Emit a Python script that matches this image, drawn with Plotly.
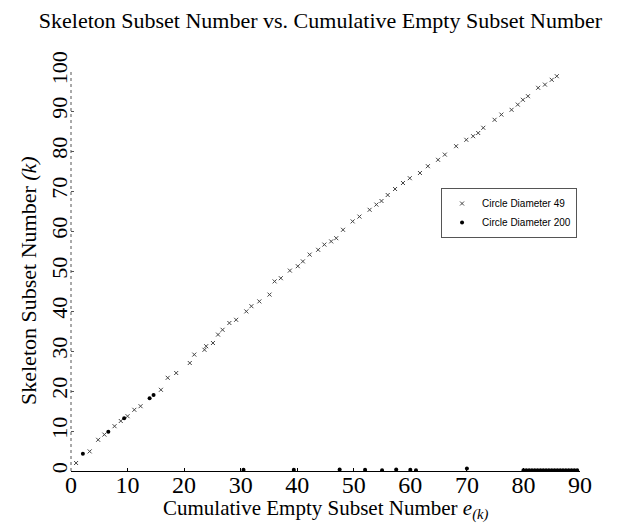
import plotly.graph_objects as go

# ---- data ----
title_text = "Skeleton Subset Number vs. Cumulative Empty Subset Number"
x_title = "Cumulative Empty Subset Number <i>e</i><sub><i>(k)</i></sub>"
y_title = "Skeleton Subset Number <i>(k)</i>"
series_names = ["Circle Diameter 49", "Circle Diameter 200"]

d49_e = [0.9, 3.3, 4.8, 5.9, 7.7, 8.8, 10.0, 11.2, 12.3, 15.9, 17.1, 18.6, 21.0, 21.8,
         23.6, 23.9, 25.1, 26.0, 26.8, 28.0, 29.2, 31.0, 31.9, 33.3, 35.1, 36.0, 37.1,
         38.7, 40.1, 41.0, 42.2, 43.7, 44.8, 46.0, 46.9, 48.1, 49.8, 51.0, 52.8, 54.0,
         54.9, 56.0, 57.3, 58.7, 59.9, 61.7, 63.1, 64.9, 66.1, 68.1, 69.9, 71.1, 72.0,
         72.9, 74.9, 76.1, 77.9, 79.0, 79.9, 80.8, 82.6, 83.8, 85.0, 85.9]
d49_k = [2.0, 4.9, 7.8, 9.1, 11.2, 12.5, 13.7, 15.3, 16.2, 20.3, 23.3, 24.5, 27.0, 29.1,
         30.3, 31.2, 32.0, 34.1, 35.3, 37.0, 37.8, 39.9, 41.2, 42.4, 44.1, 47.4, 48.2,
         50.1, 51.2, 52.4, 54.1, 55.3, 56.6, 57.4, 58.2, 60.3, 62.4, 63.6, 65.3, 66.6,
         67.5, 69.0, 70.5, 72.0, 73.2, 74.5, 76.2, 77.8, 79.1, 81.2, 82.8, 83.7, 84.5,
         85.8, 87.8, 89.1, 90.3, 91.6, 92.8, 93.7, 95.8, 96.6, 97.8, 98.7]

d200_e = [2.1, 6.6, 9.4, 13.9, 14.6, 30.5, 39.4, 47.5, 52.0, 55.0, 57.5, 60.0, 61.0,
          70.0, 80.0, 80.5, 81.0, 81.5, 82.0, 82.5, 83.0, 83.5, 84.0, 84.5, 85.0, 85.5,
          86.0, 86.5, 87.0, 87.5, 88.0, 88.5, 89.0, 89.5]
d200_k = [4.3, 9.8, 13.2, 18.2, 19.0, 0.3, 0.3, 0.4, 0.3, 0.2, 0.4, 0.3, 0.2,
          0.6, 0.2, 0.2, 0.2, 0.2, 0.2, 0.2, 0.2, 0.2, 0.2, 0.2, 0.2, 0.2,
          0.2, 0.2, 0.2, 0.2, 0.2, 0.2, 0.2, 0.2]

x_ticks = [0, 10, 20, 30, 40, 50, 60, 70, 80, 90]
y_ticks = [0, 10, 20, 30, 40, 50, 60, 70, 80, 90, 100]

serif = "Liberation Serif, Times New Roman, serif"

fig = go.Figure()
fig.add_trace(go.Scatter(
    x=d49_e, y=d49_k, mode="markers", name=series_names[0],
    marker=dict(symbol="x-thin", size=4, color="#444444",
                line=dict(width=1, color="#444444")),
))
fig.add_trace(go.Scatter(
    x=d200_e, y=d200_k, mode="markers", name=series_names[1],
    marker=dict(symbol="circle", size=4, color="black"),
))

# dotted left axis line
fig.add_shape(type="line", xref="paper", yref="paper", x0=0, x1=0, y0=0, y1=1,
              line=dict(color="#555555", width=1, dash="dot"))

# axis titles as annotations for precise placement
fig.add_annotation(text=x_title, xref="paper", yref="paper", x=0.5, y=-0.095,
                   xanchor="center", yanchor="middle", showarrow=False,
                   font=dict(family=serif, size=21, color="black"))
fig.add_annotation(text=y_title, xref="paper", yref="paper", x=-0.0845, y=0.4775,
                   xanchor="center", yanchor="middle", showarrow=False, textangle=-90,
                   font=dict(family=serif, size=22, color="black"))

fig.update_layout(
    width=625, height=529,
    margin=dict(l=63, r=53, t=63, b=66),
    paper_bgcolor="white", plot_bgcolor="white",
    title=dict(text=title_text, x=0.5, xanchor="center", y=0.992, yanchor="top",
               font=dict(family=serif, size=22, color="black")),
    font=dict(family=serif, color="black"),
    showlegend=True,
    legend=dict(x=0.727, y=0.7075, xanchor="left", yanchor="top",
                bgcolor="white", bordercolor="#555555", borderwidth=1,
                font=dict(family="Liberation Sans, Arial, sans-serif", size=10, color="black"),
                itemsizing="trace", tracegroupgap=0),
    xaxis=dict(range=[0, 90], tickvals=x_ticks, ticktext=[str(v) for v in x_ticks],
               showgrid=False, zeroline=False, showline=True, linecolor="black",
               linewidth=1, ticks="inside", ticklen=3, tickcolor="black",
               ticklabelstandoff=-8,
               tickfont=dict(family=serif, size=24)),
    yaxis=dict(range=[0, 100], tickvals=y_ticks, ticktext=[str(v) for v in y_ticks],
               showgrid=False, zeroline=False, showline=False,
               ticks="inside", ticklen=3, tickcolor="#555555", tickangle=-90,
               ticklabelstandoff=-1,
               tickfont=dict(family=serif, size=22)),
)

fig.write_html("out.html")
